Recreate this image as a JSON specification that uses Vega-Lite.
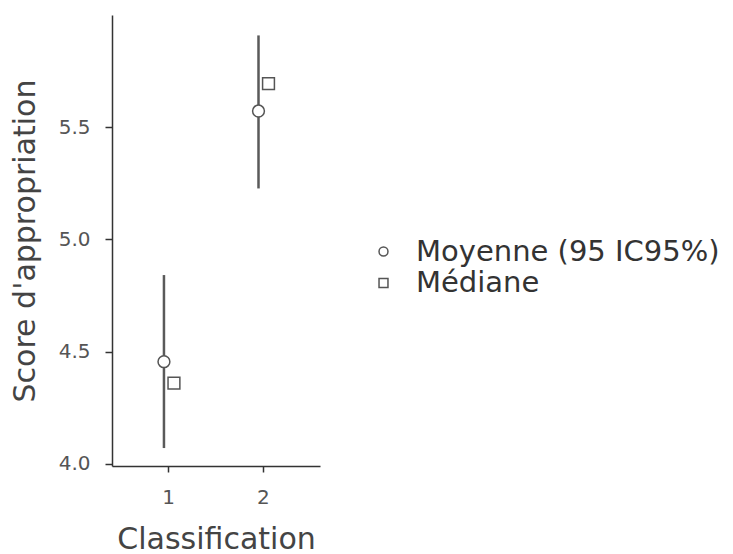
{
  "$schema": "https://vega.github.io/schema/vega-lite/v6.json",
  "width": 208,
  "height": 451,
  "autosize": {"type": "none"},
  "padding": {"left": 112, "top": 15, "right": 413, "bottom": 88},
  "background": "white",
  "config": {
    "font": "DejaVu Sans",
    "view": {"stroke": null},
    "axis": {
      "grid": false,
      "domainColor": "#333333",
      "domainWidth": 1.5,
      "tickColor": "#333333",
      "tickWidth": 1.5,
      "tickSize": 6,
      "labelFont": "DejaVu Sans",
      "labelFontSize": 20,
      "labelColor": "#555555",
      "titleFont": "DejaVu Sans",
      "titleFontSize": 30,
      "titleFontWeight": "normal",
      "titleColor": "#444444"
    }
  },
  "data": {
    "values": [
      {"Classification": "1", "serie": "Moyenne (95 IC95%)", "valeur": 4.455, "bas": 4.07, "haut": 4.841},
      {"Classification": "1", "serie": "Médiane", "valeur": 4.359},
      {"Classification": "2", "serie": "Moyenne (95 IC95%)", "valeur": 5.572, "bas": 5.227, "haut": 5.909},
      {"Classification": "2", "serie": "Médiane", "valeur": 5.694}
    ]
  },
  "encoding": {
    "x": {
      "field": "Classification",
      "type": "nominal",
      "scale": {"type": "band", "paddingInner": 0, "paddingOuter": 0.1},
      "axis": {"labelAngle": 0, "labelPadding": 15, "titlePadding": 17, "title": "Classification"}
    },
    "xOffset": {
      "field": "serie",
      "type": "nominal",
      "scale": {"type": "point", "padding": 0, "domain": ["Moyenne (95 IC95%)", "Médiane"], "range": [42.5, 52.5]}
    }
  },
  "layer": [
    {
      "transform": [{"filter": "datum.bas != null"}],
      "mark": {"type": "rule", "color": "#5a5a5a", "strokeWidth": 2.5},
      "encoding": {
        "y": {"field": "bas", "type": "quantitative"},
        "y2": {"field": "haut"}
      }
    },
    {
      "mark": {"type": "point", "filled": false, "fill": "white", "fillOpacity": 1, "stroke": "#555555", "strokeWidth": 1.5, "size": 140, "opacity": 1},
      "encoding": {
        "y": {
          "field": "valeur",
          "type": "quantitative",
          "scale": {"domain": [3.99, 6.0], "nice": false, "zero": false},
          "axis": {"values": [4, 4.5, 5, 5.5], "format": ".1f", "labelPadding": 15, "tickSize": 7, "titlePadding": 18, "title": "Score d'appropriation"}
        },
        "shape": {
          "field": "serie",
          "type": "nominal",
          "scale": {"domain": ["Moyenne (95 IC95%)", "Médiane"], "range": ["circle", "square"]},
          "legend": {
            "title": null,
            "orient": "none",
            "legendX": 257,
            "legendY": 222,
            "padding": 0,
            "symbolSize": 80,
            "labelFont": "DejaVu Sans",
            "labelFontSize": 29,
            "labelColor": "#333333",
            "labelOffset": 18,
            "rowPadding": 1.5,
            "labelLimit": 400,
            "encode": {
              "symbols": {
                "update": {
                  "fill": {"value": "white"},
                  "fillOpacity": {"value": 1},
                  "stroke": {"value": "#555555"},
                  "strokeWidth": {"value": 1.3},
                  "opacity": {"value": 1},
                  "size": {"value": 80}
                }
              }
            }
          }
        }
      }
    }
  ]
}
